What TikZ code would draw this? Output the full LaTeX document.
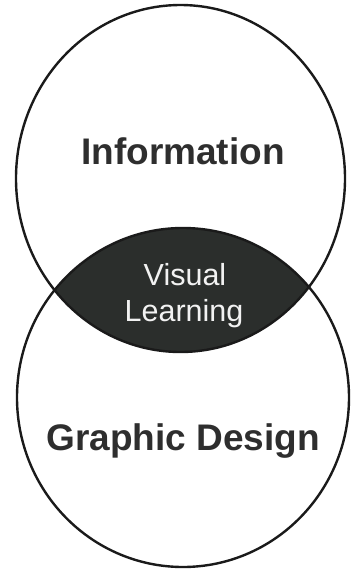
\documentclass[tikz,border=0pt]{standalone}
\usepackage{fontspec}
\setmainfont{Liberation Sans}
\usetikzlibrary{shapes.geometric}
\definecolor{inkline}{HTML}{1A1A1A}
\definecolor{lensfill}{HTML}{2B2E2C}
\definecolor{labeltext}{HTML}{2E2E2E}
\definecolor{lenstext}{HTML}{F2F2F2}
\begin{document}
\begin{tikzpicture}[x=1pt,y=-1pt,
  ring/.style={ellipse,draw=inkline,line width=2.4pt,inner sep=0pt},
  biglabel/.style={font=\bfseries\fontsize{37}{40}\selectfont,text=labeltext,anchor=base,inner sep=0pt},
  lenslabel/.style={font=\fontsize{30.5}{34}\selectfont,text=lenstext,anchor=base,inner sep=0pt}]
\useasboundingbox (0,0) rectangle (352,574);
\begin{scope}
  \clip (180.5,178.5) ellipse [x radius=164.5pt, y radius=173.5pt];
  \fill[lensfill] (183,397.5) ellipse [x radius=166pt, y radius=169.5pt];
\end{scope}
\node[ring,minimum width=329pt,minimum height=347pt] (info) at (180.5,178.5) {};
\node[ring,minimum width=332pt,minimum height=339pt] (gd) at (183,397.5) {};
\node[biglabel] (infotxt) at (183,164.3) {Information};
\node[biglabel] (gdtxt) at (183,450) {Graphic Design};
\node[lenslabel] (vis) at (185,285) {Visual};
\node[lenslabel] (learn) at (184,321.7) {Learning};
\end{tikzpicture}
\end{document}
